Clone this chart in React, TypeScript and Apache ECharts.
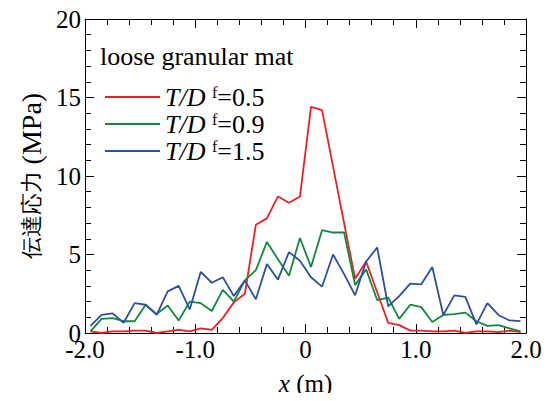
import React, { useEffect, useRef } from "react";
import * as echarts from "echarts";

const xPositions = [
  -1.95, -1.85, -1.75, -1.65, -1.55, -1.45, -1.35, -1.25, -1.15, -1.05,
  -0.95, -0.85, -0.75, -0.65, -0.55, -0.45, -0.35, -0.25, -0.15, -0.05,
  0.05, 0.15, 0.25, 0.35, 0.45, 0.55, 0.65, 0.75, 0.85, 0.95,
  1.05, 1.15, 1.25, 1.35, 1.45, 1.55, 1.65, 1.75, 1.85, 1.95,
];

const red05 = [
  0.1, 0.0, 0.1, 0.1, 0.15, 0.15, 0.0, 0.1, 0.2, 0.1,
  0.3, 0.2, 0.95, 1.95, 2.5, 6.9, 7.3, 8.7, 8.3, 8.7,
  14.4, 14.2, 10.6, 7.0, 3.45, 4.55, 2.6, 0.65, 0.5, 0.15,
  0.15, 0.1, 0.1, 0.15, 0.0, 0.1, 0.1, 0.05, 0.15, 0.05,
];

const green09 = [
  0.1, 0.9, 0.95, 0.75, 0.75, 1.8, 1.2, 1.75, 0.8, 2.0,
  1.9, 1.4, 2.75, 2.0, 3.35, 4.0, 5.8, 4.7, 3.65, 6.05,
  4.2, 6.55, 6.4, 6.4, 3.05, 4.05, 2.1, 2.25, 0.9, 1.8,
  1.65, 0.7, 1.15, 1.2, 1.3, 0.75, 0.45, 0.5, 0.3, 0.1,
];

const blue15 = [
  0.45, 1.15, 1.25, 0.65, 1.9, 1.8, 1.15, 2.65, 3.0, 1.5,
  3.9, 3.2, 3.55, 2.35, 3.35, 2.15, 4.4, 3.4, 5.15, 4.6,
  3.55, 2.95, 5.0, 3.75, 2.4, 4.55, 5.45, 1.7, 2.35, 3.15,
  3.1, 4.2, 1.15, 2.4, 2.3, 0.55, 1.9, 1.15, 0.8, 0.75,
];

const seriesNames = ["0.5", "0.9", "1.5"];
const seriesColors = ["#f01e23", "#12883c", "#2d4fa3"];
const seriesData = [red05, green09, blue15];

const SERIF = "Liberation Serif";

export default function App() {
  const ref = useRef<HTMLDivElement>(null);
  useEffect(() => {
    if (!ref.current) return;
    const chart = echarts.init(ref.current, undefined, { renderer: "svg" });
    const axisCommon = {
      type: "value" as const,
      axisLine: { show: true, onZero: false, lineStyle: { color: "#000", width: 1 } },
      axisTick: { show: true, inside: true, length: 9, lineStyle: { color: "#000", width: 1 } },
      minorTick: { show: true, splitNumber: 5, length: 6, lineStyle: { color: "#000", width: 1 } },
      splitLine: { show: false },
    };
    chart.setOption({
      animation: false,
      backgroundColor: "#fff",
      title: {
        text: "loose granular mat",
        left: 100,
        top: 43,
        padding: 0,
        textStyle: { fontFamily: SERIF, fontSize: 26, fontWeight: "normal", color: "#000" },
      },
      legend: {
        orient: "vertical",
        left: 105,
        top: 84,
        padding: 0,
        icon: "rect",
        itemWidth: 55,
        itemHeight: 2,
        itemGap: 1,
        data: seriesNames.map((n) => "T/D f=" + n),
        formatter: (name: string) => {
          const v = name.split("=")[1];
          return "{i|T/D} {s|f}{n|=" + v + "}";
        },
        textStyle: {
          color: "#000",
          fontFamily: SERIF,
          fontSize: 26,
          rich: {
            i: { fontFamily: SERIF, fontStyle: "italic", fontSize: 26, lineHeight: 26, color: "#000" },
            s: { fontFamily: SERIF, fontSize: 16, lineHeight: 26, verticalAlign: "top", color: "#000" },
            n: { fontFamily: SERIF, fontSize: 26, lineHeight: 26, color: "#000" },
          },
        },
      },
      grid: { left: 85, right: 26, top: 19, bottom: 67, containLabel: false },
      xAxis: [
        {
          ...axisCommon,
          position: "bottom",
          min: -2,
          max: 2,
          interval: 1,
          name: "{i|x} {r|(m)}",
          nameLocation: "middle",
          nameGap: 38,
          nameTextStyle: {
            fontFamily: SERIF,
            fontSize: 25,
            color: "#000",
            rich: {
              i: { fontFamily: SERIF, fontStyle: "italic", fontSize: 25, color: "#000" },
              r: { fontFamily: SERIF, fontSize: 25, color: "#000" },
            },
          },
          axisLabel: {
            show: true,
            margin: 4,
            color: "#000",
            fontFamily: SERIF,
            fontSize: 25,
            formatter: (v: number) => (v === 0 ? "0" : v.toFixed(1)),
          },
        },
        {
          ...axisCommon,
          position: "top",
          min: -2,
          max: 2,
          interval: 1,
          axisLabel: { show: false },
        },
      ],
      yAxis: [
        {
          ...axisCommon,
          position: "left",
          min: 0,
          max: 20,
          interval: 5,
          name: "{c|伝達応力} {l|(MPa)}",
          nameLocation: "middle",
          nameGap: 40,
          nameRotate: 90,
          nameTextStyle: {
            color: "#000",
            fontFamily: SERIF,
            fontSize: 27,
            rich: {
              c: { fontFamily: SERIF, fontSize: 22, color: "#000" },
              l: { fontFamily: SERIF, fontSize: 28, color: "#000" },
            },
          },
          axisLabel: {
            show: true,
            margin: 4,
            color: "#000",
            fontFamily: SERIF,
            fontSize: 25,
          },
        },
        {
          ...axisCommon,
          position: "right",
          min: 0,
          max: 20,
          interval: 5,
          axisLabel: { show: false },
        },
      ],
      series: seriesData.map((d, k) => ({
        name: "T/D f=" + seriesNames[k],
        type: "line",
        symbol: "none",
        color: seriesColors[k],
        lineStyle: { color: seriesColors[k], width: 1.8 },
        data: xPositions.map((x, i) => [x, d[i]]),
      })),
    });
    return () => chart.dispose();
  }, []);
  return <div ref={ref} style={{ width: 552, height: 401, margin: -8 }} />;
}
